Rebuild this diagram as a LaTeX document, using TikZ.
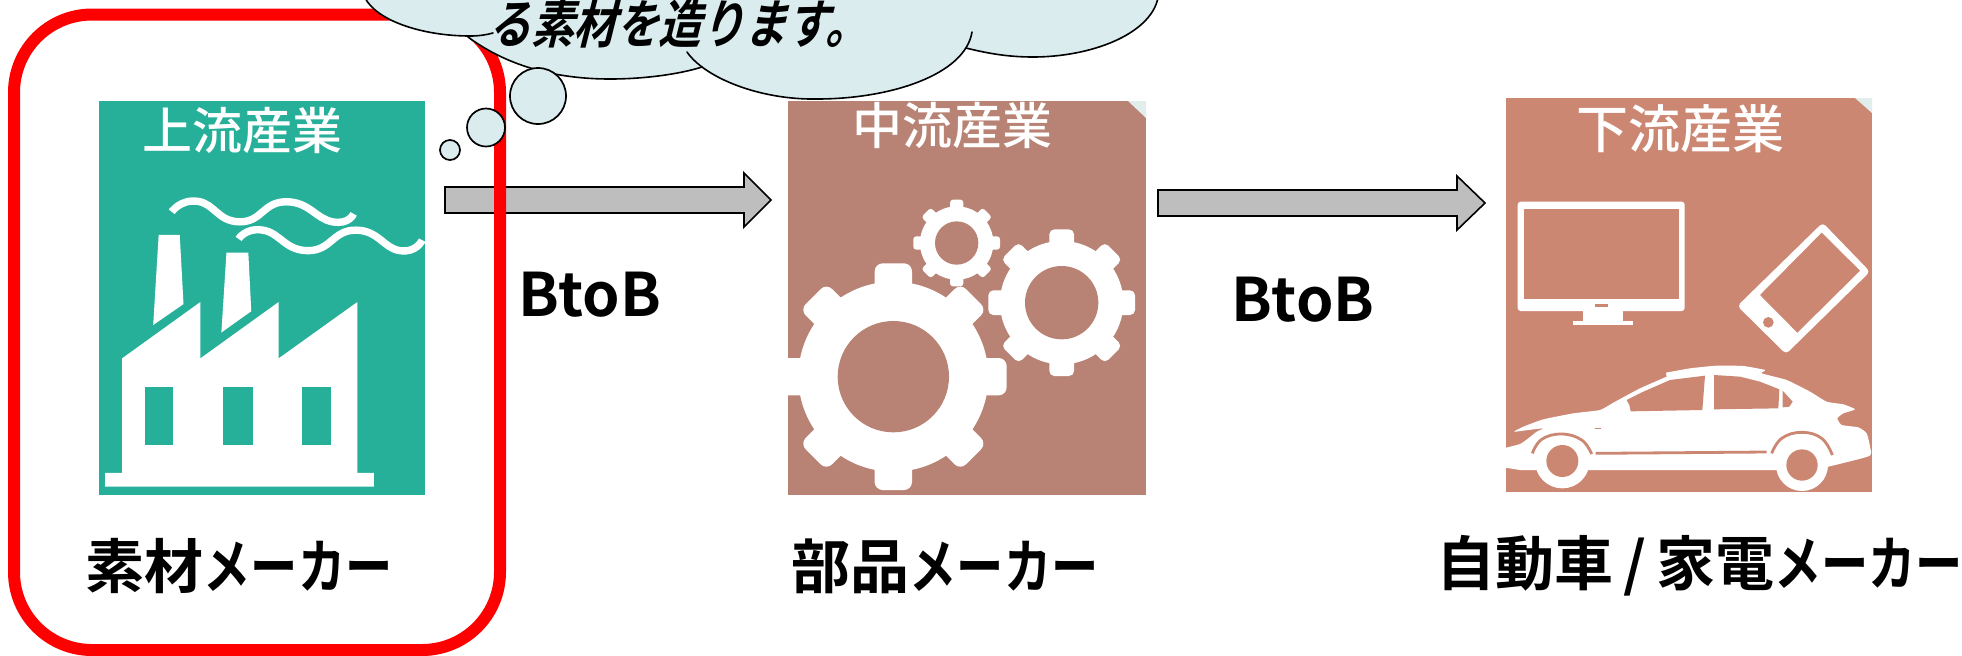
\documentclass[tikz,border=0pt]{standalone}
\usepackage{fontspec}
\newfontfamily\cjkb{Noto Sans CJK JP Medium}
\newfontfamily\cjkk{Noto Sans CJK JP Bold}
\newfontfamily\cjkn[FakeStretch=0.8]{Noto Sans CJK JP Bold}
\newfontfamily\cjkslant[FakeSlant=0.25,FakeStretch=0.81]{Noto Sans CJK JP Bold}
\newfontfamily\latinlabel{Noto Sans CJK JP Bold}
\definecolor{teal1}{HTML}{27B099}
\definecolor{brownA}{HTML}{B88374}
\definecolor{brownB}{HTML}{CC8772}
\definecolor{cloudc}{HTML}{DAECEE}
\definecolor{cutc}{HTML}{E2EEEC}
\definecolor{arrowc}{HTML}{BEBEBE}
\newcommand{\kana}[1]{{\cjkn #1}}
\tikzset{
  blockarrow/.style={fill=arrowc,draw=black,line width=0.8pt,line join=miter},
  cloudline/.style={draw=black,line width=0.8pt,line cap=round},
  bubble/.style={fill=cloudc,draw=black,line width=0.85pt},
  headtext/.style={text=white,inner sep=0pt,font=\cjkb\fontsize{25}{25}\selectfont},
  labeltext/.style={text=black,inner sep=0pt,font=\cjkk\fontsize{29.5}{29.5}\selectfont},
  btobtext/.style={text=black,inner sep=0pt,font=\latinlabel\fontsize{30}{30}\selectfont},
  iconwhite/.style={fill=white,draw=none}
}
\newcommand{\gearicon}[8]{%
  \begin{scope}[shift={(#1,#2)}]
    \fill[white] (0,0) circle[radius=#4];
    \foreach \a in {0,45,...,315}{
      \begin{scope}[rotate=\a]
        \fill[white,rounded corners=#8] (-#6,0) rectangle (#6,#5);
      \end{scope}
    }
    \fill[#7] (0,0) circle[radius=#3];
  \end{scope}}
\begin{document}
\begin{tikzpicture}[x=0.5pt,y=-0.5pt]
\useasboundingbox (0,0) rectangle (1962,655);
\clip (0,0) rectangle (1962,655);
\fill[white] (0,0) rectangle (1962,655);

% block arrows
\draw[blockarrow] (445,187) -- (744,187) -- (744,173) -- (771,200) -- (744,227) -- (744,213) -- (445,213) -- cycle;
\draw[blockarrow] (1158,190) -- (1457,190) -- (1457,176) -- (1485,203) -- (1457,230) -- (1457,216) -- (1158,216) -- cycle;

% red frame
\draw[red,line width=6pt,rounded corners=39pt] (14,14.5) rectangle (500,650);

% upstream panel
\fill[teal1] (99,101) rectangle (425,495);
\begin{scope}[xscale=0.42088,yscale=0.41771]
  \fill[iconwhite] (250,1132) -- (290,1132) -- (290,858) -- (476,723) -- (476,858) -- (662,723) -- (662,858) -- (849,723) -- (849,1132) -- (888,1132) -- (888,1165) -- (250,1165) -- cycle;
  \fill[teal1] (344,927) rectangle (412,1065);
  \fill[teal1] (531,927) rectangle (600,1065);
  \fill[teal1] (718,927) rectangle (787,1065);
  \fill[iconwhite] (377,562) -- (427,562) -- (436,728) -- (364,778) -- cycle;
  \fill[iconwhite] (538,605) -- (590,605) -- (597,745) -- (526,796) -- cycle;
  \draw[white,line width=3.7pt] plot[smooth,tension=0.9] coordinates {(408,507) (470,482) (570,531) (680,483) (790,531) (840,512)};
  \draw[white,line width=3.7pt] plot[smooth,tension=0.9] coordinates {(567,572) (625,551) (732,600) (845,551) (950,600) (1003,575)};
\end{scope}
\node[headtext] (headA) at (242,130) {上流産業};

% midstream panel
\fill[brownA] (788,101) rectangle (1146,495);
\begin{scope}
  \clip (788,101) rectangle (1146,495);
  \fill[cutc] (1128,101) -- (1146,101) -- (1146,118) -- cycle;
  \begin{scope}[shift={(760,80)},scale=0.33333]
    \gearicon{400}{890}{167}{285}{340}{56}{brownA}{4pt}
    \gearicon{905}{668}{110}{185}{220}{37}{brownA}{2.5pt}
    \gearicon{590}{489}{65}{110}{130}{20}{brownA}{1.5pt}
  \end{scope}
\end{scope}
\node[headtext] (headB) at (952,125) {中流産業};

% downstream panel
\fill[brownB] (1506,98) rectangle (1872,492);
\fill[cutc] (1855,98) -- (1872,98) -- (1872,113) -- cycle;
\begin{scope}[shift={(1480,80)},scale=0.33333]
  \fill[iconwhite,rounded corners=1.5pt] (113,365) rectangle (614,693);
  \fill[brownB] (133,387) rectangle (596,656);
  \fill[iconwhite] (308,690) rectangle (430,725);
  \fill[iconwhite] (280,722) rectangle (458,735);
  \fill[brownB] (345,672) rectangle (385,680);
  \fill[iconwhite,rounded corners=2pt] (1028,428) -- (1170,575) -- (918,822) -- (772,678) -- cycle;
  \fill[brownB] (1025,458) -- (1140,572) -- (952,758) -- (840,645) -- cycle;
  \fill[brownB] (865,727) circle[radius=16];
\end{scope}
\begin{scope}
  \clip (1506,98) rectangle (1872,492);
  \begin{scope}[shift={(1500,350)},scale=0.33333]
    \fill[iconwhite] plot[smooth,tension=0.3] coordinates {(10,295) (60,282) (85,265) (110,245) (130,235) (85,240) (42,245) (70,230) (130,208) (220,190) (300,180) (340,158) (420,115) (500,80)} -- plot[smooth,tension=0.3] coordinates {(498,68) (570,55) (650,47) (730,48) (795,60) (785,70) (860,90) (930,125) (980,155) (1030,163) (1065,178) (1030,190) (1012,205) (1025,225) (1075,232) (1100,250) (1110,290) (1108,318) (985,350)} -- (950,360) -- (60,360) -- (10,352) -- cycle;
    \fill[iconwhite] (187,333) circle[radius=82];
    \fill[iconwhite] (906,345) circle[radius=78];
    \fill[brownB] (187,333) circle[radius=48];
    \fill[brownB] (906,345) circle[radius=47];
    \draw[brownB,line width=1.4pt] plot[smooth,tension=0.7] coordinates {(97,310) (125,268) (185,252) (245,270) (275,312)};
    \draw[brownB,line width=1.4pt] plot[smooth,tension=0.7] coordinates {(815,310) (845,265) (905,247) (965,265) (997,315)};
    \draw[brownB,line width=1.4pt] (287,310) -- (800,306);
    \fill[brownB] (285,233) rectangle (303,238);
    \fill[brownB] (380,150) -- (430,125) -- (510,90) -- (615,77) -- (607,180) -- (392,184) -- (388,165) -- cycle;
    \fill[brownB] (642,75) -- (720,80) -- (780,95) -- (838,118) -- (835,175) -- (642,178) -- cycle;
    \fill[brownB] (848,122) -- (878,155) -- (868,170) -- (848,172) -- cycle;
  \end{scope}
\end{scope}
\node[headtext,font=\cjkb\fontsize{26}{26}\selectfont] (headC) at (1680,129) {下流産業};

% thought cloud
\fill[cloudc] (365,-2) .. controls (378,22) and (425,36) .. (470,36) -- (468,37) .. controls (510,68) and (560,79) .. (610,79) .. controls (645,79) and (680,74) .. (702,67) -- (966,48) .. controls (990,54) and (1010,57) .. (1033,57) .. controls (1090,57) and (1150,35) .. (1158,-2) -- cycle;
\fill[cloudc] (687,52) .. controls (705,78) and (760,100) .. (817,99) .. controls (890,99) and (965,75) .. (972,32) -- cycle;
\draw[cloudline] (365,-2) .. controls (378,22) and (425,36) .. (470,36) .. controls (478,36) and (486,35) .. (493,33);
\draw[cloudline] (468,37) .. controls (510,68) and (560,79) .. (610,79) .. controls (645,79) and (680,74) .. (702,67);
\draw[cloudline] (687,52) .. controls (705,78) and (760,100) .. (817,99) .. controls (890,99) and (965,75) .. (972,32);
\draw[cloudline] (966,48) .. controls (990,54) and (1010,57) .. (1033,57) .. controls (1090,57) and (1150,35) .. (1158,-2);
\draw[bubble] (538,96) circle[radius=28];
\draw[bubble] (486,127.5) circle[radius=19];
\draw[bubble] (450,150) circle[radius=10];
\node[text=black,inner sep=0pt,font=\cjkslant\fontsize{26.3}{26.3}\selectfont] (cloudtext) at (678,23) {る素材を造ります。};

% labels
\node[labeltext] (labelA) at (239,566) {素材\kana{メーカー}};
\node[labeltext] (labelB) at (945,566) {部品\kana{メーカー}};
\node[labeltext] (labelC) at (1700,566) {自動車\,/\,家電\kana{メーカー}};
\node[btobtext] (btobA) at (590,295) {BtoB};
\node[btobtext] (btobB) at (1303,300) {BtoB};
\end{tikzpicture}
\end{document}
